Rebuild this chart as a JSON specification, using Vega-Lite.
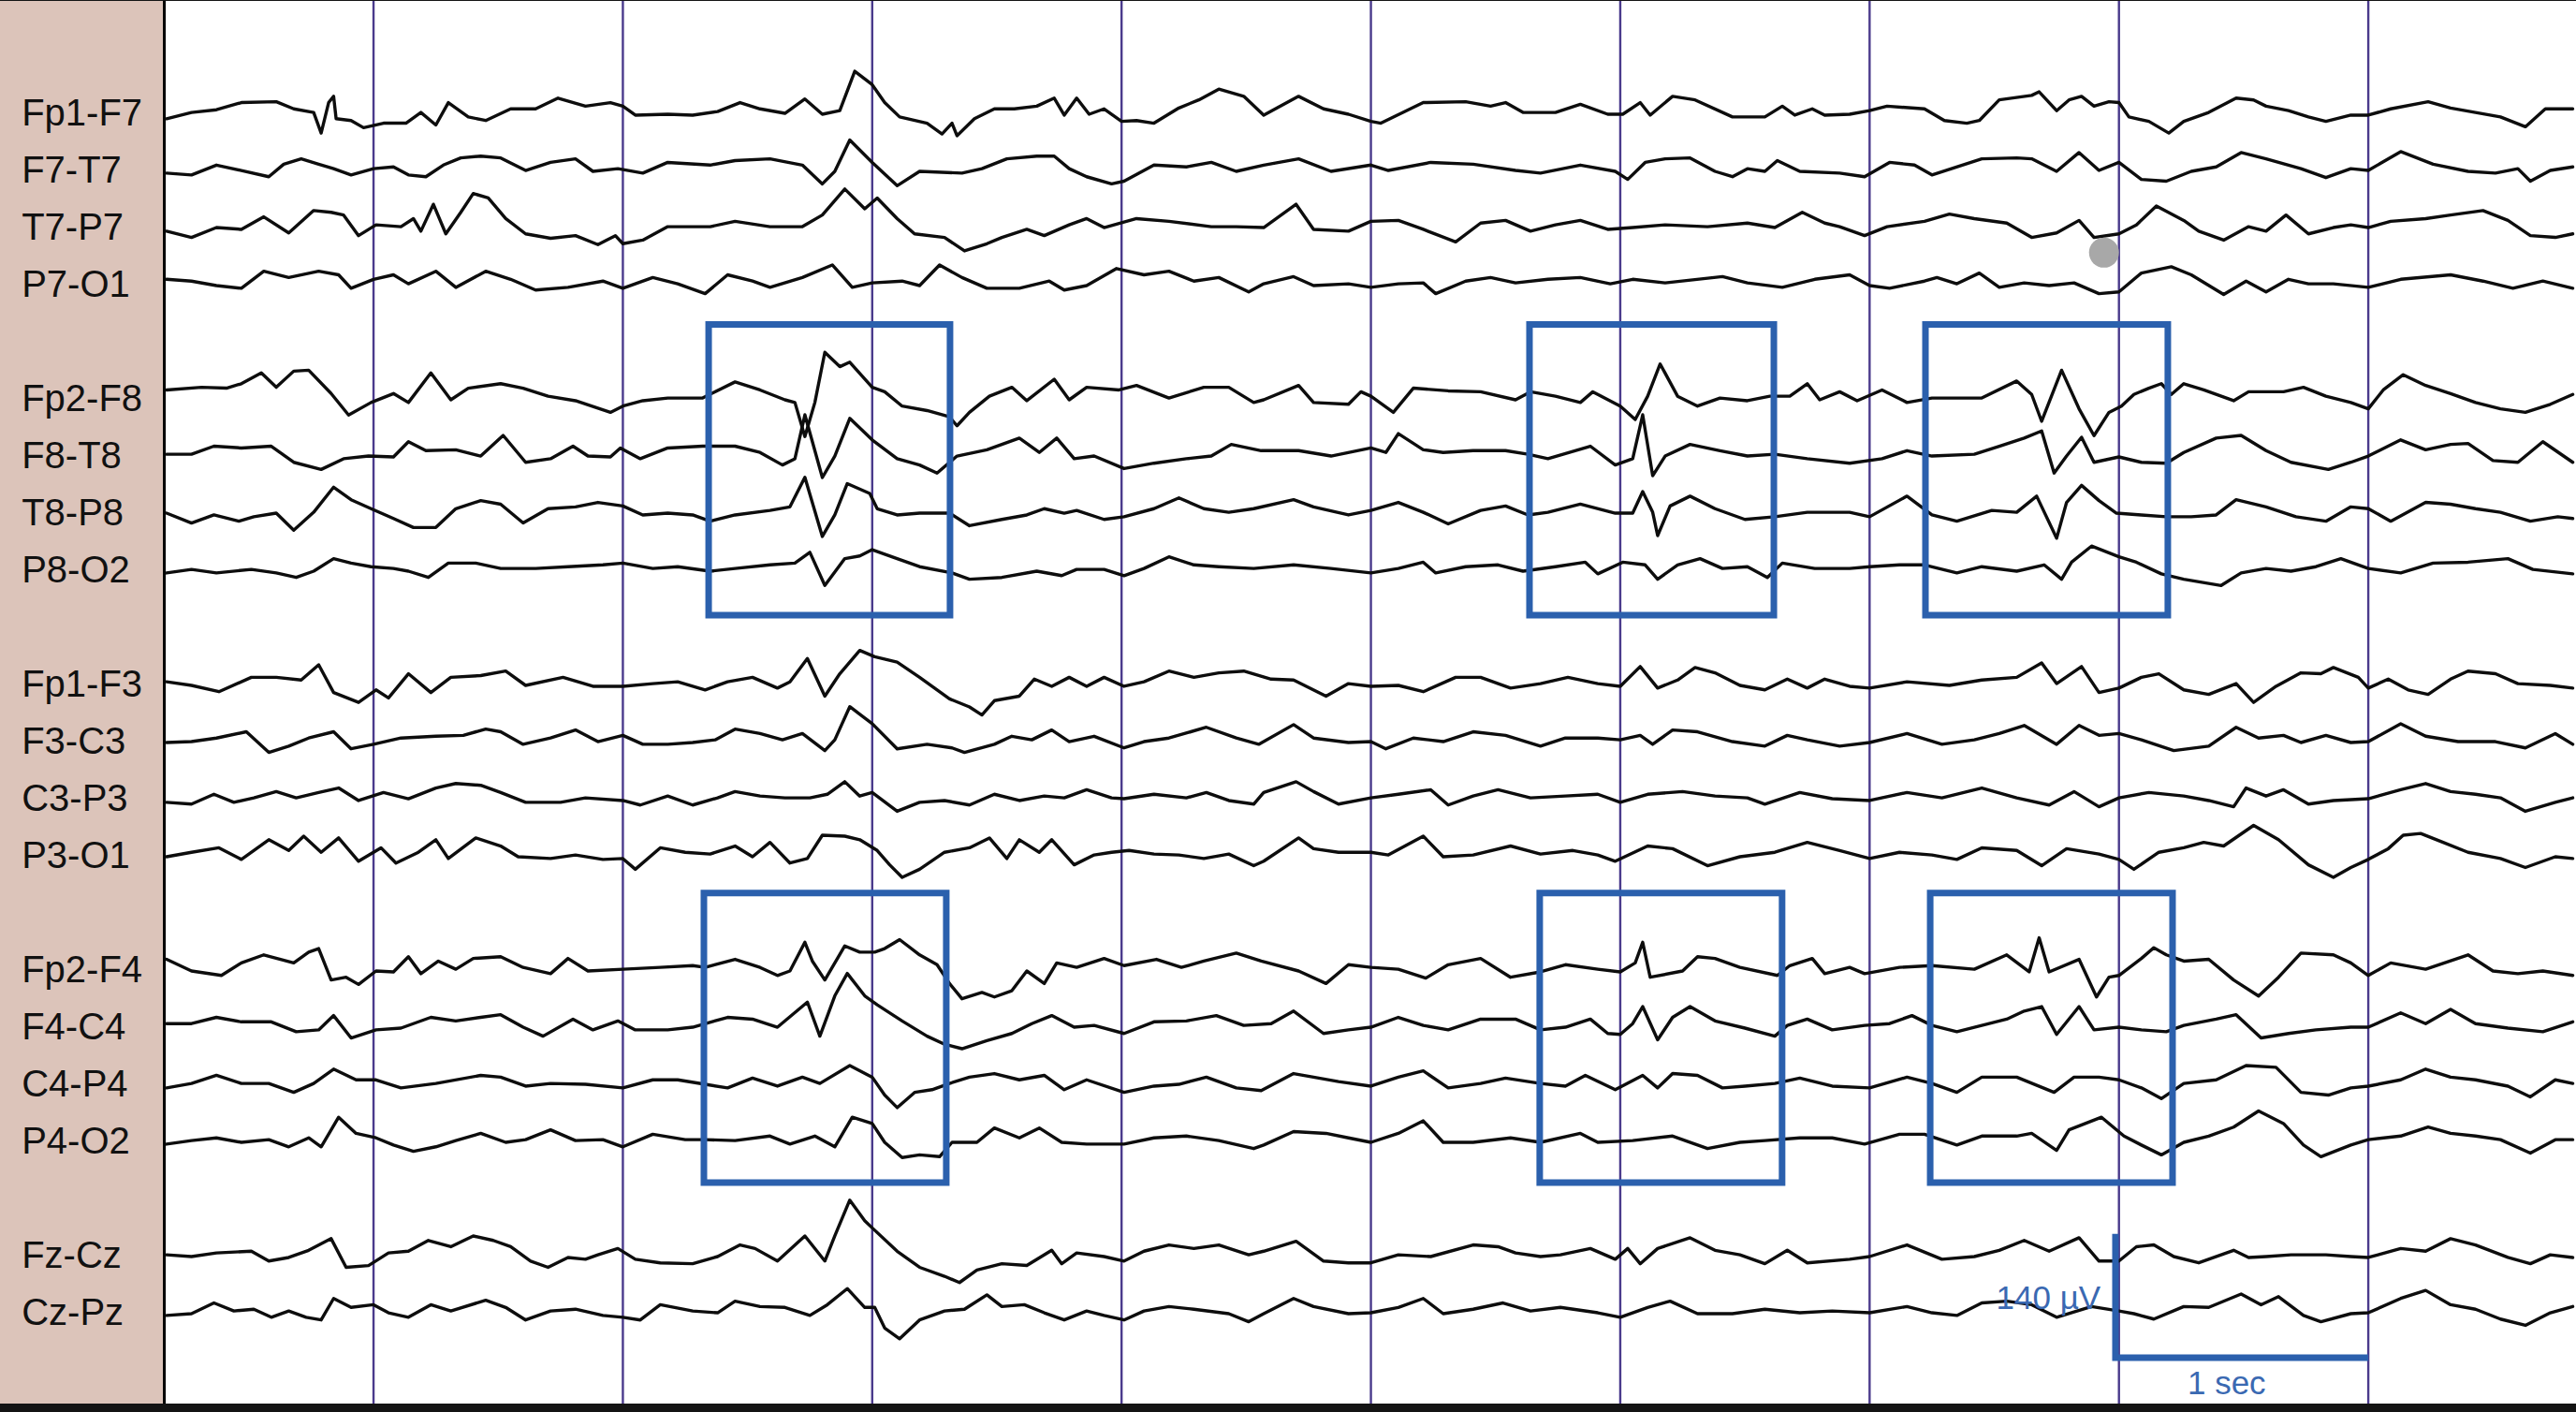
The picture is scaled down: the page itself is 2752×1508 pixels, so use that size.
{
"$schema":"https://vega.github.io/schema/vega-lite/v6.json",
"width":2752,"height":1498,"autosize":"none",
"padding":{"left":0,"right":0,"top":1,"bottom":9},
"background":"#141414",
"config":{"view":{"stroke":null,"fill":"#ffffff"},"axis":{"disable":true},"line":{"color":"#0d0d0d","strokeWidth":3.4,"strokeJoin":"round","strokeCap":"round"}},
"datasets":{
"Fp1-F7":[{"t":0.17,"v":-5},{"t":0.27,"v":2},{"t":0.37,"v":5},{"t":0.47,"v":13},{"t":0.61,"v":14},{"t":0.68,"v":6},{"t":0.76,"v":2},{"t":0.79,"v":-21},{"t":0.82,"v":13},{"t":0.84,"v":20},{"t":0.85,"v":-5},{"t":0.91,"v":-7},{"t":0.96,"v":-15},{"t":1.04,"v":-10},{"t":1.13,"v":-10},{"t":1.19,"v":2},{"t":1.25,"v":-12},{"t":1.3,"v":13},{"t":1.38,"v":-3},{"t":1.45,"v":-7},{"t":1.55,"v":6},{"t":1.65,"v":6},{"t":1.74,"v":18},{"t":1.85,"v":9},{"t":1.95,"v":13},{"t":2.0,"v":9},{"t":2.05,"v":-1},{"t":2.18,"v":0},{"t":2.28,"v":-1},{"t":2.38,"v":3},{"t":2.47,"v":13},{"t":2.55,"v":6},{"t":2.65,"v":1},{"t":2.73,"v":17},{"t":2.8,"v":0},{"t":2.87,"v":4},{"t":2.93,"v":48},{"t":3.0,"v":33},{"t":3.05,"v":13},{"t":3.11,"v":-3},{"t":3.22,"v":-10},{"t":3.28,"v":-22},{"t":3.32,"v":-10},{"t":3.34,"v":-24},{"t":3.41,"v":-5},{"t":3.49,"v":6},{"t":3.57,"v":6},{"t":3.66,"v":9},{"t":3.73,"v":18},{"t":3.77,"v":-1},{"t":3.82,"v":18},{"t":3.87,"v":0},{"t":3.93,"v":6},{"t":4.0,"v":-8},{"t":4.06,"v":-7},{"t":4.13,"v":-10},{"t":4.23,"v":7},{"t":4.31,"v":16},{"t":4.39,"v":28},{"t":4.49,"v":20},{"t":4.57,"v":-1},{"t":4.71,"v":20},{"t":4.81,"v":6},{"t":4.91,"v":0},{"t":5.0,"v":-8},{"t":5.04,"v":-10},{"t":5.21,"v":13},{"t":5.38,"v":14},{"t":5.48,"v":9},{"t":5.54,"v":13},{"t":5.61,"v":2},{"t":5.74,"v":2},{"t":5.84,"v":11},{"t":5.95,"v":0},{"t":6.01,"v":0},{"t":6.08,"v":13},{"t":6.12,"v":-1},{"t":6.21,"v":20},{"t":6.3,"v":16},{"t":6.45,"v":-3},{"t":6.58,"v":-3},{"t":6.65,"v":9},{"t":6.7,"v":-1},{"t":6.77,"v":6},{"t":6.82,"v":-1},{"t":6.92,"v":0},{"t":7.0,"v":4},{"t":7.07,"v":9},{"t":7.22,"v":6},{"t":7.3,"v":-7},{"t":7.39,"v":-10},{"t":7.44,"v":-7},{"t":7.52,"v":16},{"t":7.65,"v":21},{"t":7.68,"v":25},{"t":7.75,"v":4},{"t":7.8,"v":16},{"t":7.85,"v":20},{"t":7.9,"v":9},{"t":7.96,"v":14},{"t":8.0,"v":13},{"t":8.04,"v":-3},{"t":8.12,"v":-8},{"t":8.2,"v":-21},{"t":8.26,"v":-8},{"t":8.36,"v":2},{"t":8.47,"v":18},{"t":8.54,"v":16},{"t":8.59,"v":9},{"t":8.68,"v":4},{"t":8.76,"v":-3},{"t":8.83,"v":-8},{"t":8.93,"v":-1},{"t":9.0,"v":-1},{"t":9.09,"v":6},{"t":9.24,"v":14},{"t":9.33,"v":7},{"t":9.43,"v":2},{"t":9.53,"v":-3},{"t":9.63,"v":-14},{"t":9.71,"v":6},{"t":9.82,"v":6}],
"F7-T7":[{"t":0.17,"v":-2},{"t":0.27,"v":-4},{"t":0.37,"v":7},{"t":0.47,"v":1},{"t":0.58,"v":-6},{"t":0.64,"v":8},{"t":0.71,"v":14},{"t":0.78,"v":8},{"t":0.84,"v":3},{"t":0.91,"v":-4},{"t":1.0,"v":3},{"t":1.08,"v":5},{"t":1.14,"v":-4},{"t":1.21,"v":-6},{"t":1.28,"v":7},{"t":1.35,"v":15},{"t":1.43,"v":17},{"t":1.51,"v":15},{"t":1.61,"v":1},{"t":1.71,"v":10},{"t":1.81,"v":14},{"t":1.88,"v":0},{"t":1.98,"v":3},{"t":2.08,"v":-2},{"t":2.18,"v":10},{"t":2.35,"v":7},{"t":2.45,"v":12},{"t":2.59,"v":14},{"t":2.72,"v":7},{"t":2.8,"v":-14},{"t":2.85,"v":0},{"t":2.91,"v":35},{"t":3.0,"v":10},{"t":3.1,"v":-16},{"t":3.19,"v":0},{"t":3.36,"v":-2},{"t":3.44,"v":3},{"t":3.54,"v":14},{"t":3.66,"v":17},{"t":3.73,"v":17},{"t":3.79,"v":3},{"t":3.86,"v":-6},{"t":3.96,"v":-14},{"t":4.01,"v":-11},{"t":4.13,"v":7},{"t":4.26,"v":5},{"t":4.36,"v":10},{"t":4.46,"v":0},{"t":4.57,"v":7},{"t":4.71,"v":14},{"t":4.84,"v":0},{"t":5.0,"v":7},{"t":5.07,"v":1},{"t":5.24,"v":10},{"t":5.41,"v":8},{"t":5.58,"v":1},{"t":5.68,"v":-2},{"t":5.84,"v":7},{"t":5.98,"v":0},{"t":6.03,"v":-9},{"t":6.1,"v":10},{"t":6.18,"v":14},{"t":6.28,"v":15},{"t":6.38,"v":0},{"t":6.45,"v":-6},{"t":6.51,"v":3},{"t":6.58,"v":0},{"t":6.63,"v":12},{"t":6.72,"v":0},{"t":6.88,"v":-2},{"t":6.98,"v":-6},{"t":7.08,"v":10},{"t":7.18,"v":7},{"t":7.25,"v":-4},{"t":7.45,"v":14},{"t":7.59,"v":15},{"t":7.65,"v":14},{"t":7.75,"v":0},{"t":7.84,"v":21},{"t":7.92,"v":1},{"t":8.0,"v":10},{"t":8.09,"v":-9},{"t":8.19,"v":-11},{"t":8.29,"v":0},{"t":8.39,"v":5},{"t":8.49,"v":21},{"t":8.59,"v":14},{"t":8.73,"v":3},{"t":8.83,"v":-7},{"t":8.93,"v":3},{"t":9.0,"v":1},{"t":9.13,"v":22},{"t":9.26,"v":8},{"t":9.4,"v":0},{"t":9.51,"v":-2},{"t":9.6,"v":3},{"t":9.65,"v":-11},{"t":9.73,"v":1},{"t":9.82,"v":5}],
"T7-P7":[{"t":0.17,"v":-3},{"t":0.27,"v":-10},{"t":0.37,"v":1},{"t":0.47,"v":-1},{"t":0.56,"v":13},{"t":0.66,"v":-5},{"t":0.76,"v":20},{"t":0.83,"v":18},{"t":0.88,"v":15},{"t":0.94,"v":-8},{"t":1.01,"v":4},{"t":1.11,"v":2},{"t":1.16,"v":11},{"t":1.19,"v":-3},{"t":1.24,"v":27},{"t":1.29,"v":-6},{"t":1.35,"v":18},{"t":1.4,"v":39},{"t":1.46,"v":34},{"t":1.53,"v":11},{"t":1.61,"v":-6},{"t":1.71,"v":-11},{"t":1.81,"v":-8},{"t":1.9,"v":-18},{"t":1.97,"v":-8},{"t":2.0,"v":-17},{"t":2.08,"v":-13},{"t":2.18,"v":2},{"t":2.35,"v":2},{"t":2.45,"v":8},{"t":2.59,"v":2},{"t":2.72,"v":2},{"t":2.8,"v":15},{"t":2.89,"v":44},{"t":2.97,"v":22},{"t":3.02,"v":34},{"t":3.1,"v":11},{"t":3.17,"v":-6},{"t":3.29,"v":-10},{"t":3.37,"v":-25},{"t":3.46,"v":-17},{"t":3.52,"v":-10},{"t":3.62,"v":-1},{"t":3.69,"v":-8},{"t":3.79,"v":4},{"t":3.86,"v":11},{"t":3.93,"v":1},{"t":4.06,"v":11},{"t":4.19,"v":8},{"t":4.36,"v":2},{"t":4.46,"v":2},{"t":4.57,"v":1},{"t":4.7,"v":27},{"t":4.77,"v":-1},{"t":4.91,"v":-3},{"t":5.0,"v":8},{"t":5.11,"v":9},{"t":5.21,"v":-1},{"t":5.34,"v":-15},{"t":5.44,"v":6},{"t":5.54,"v":9},{"t":5.64,"v":-3},{"t":5.74,"v":4},{"t":5.84,"v":9},{"t":5.95,"v":-1},{"t":6.05,"v":1},{"t":6.18,"v":4},{"t":6.35,"v":2},{"t":6.51,"v":6},{"t":6.62,"v":1},{"t":6.73,"v":18},{"t":6.82,"v":6},{"t":6.88,"v":2},{"t":6.98,"v":-8},{"t":7.07,"v":2},{"t":7.22,"v":8},{"t":7.32,"v":16},{"t":7.42,"v":11},{"t":7.55,"v":6},{"t":7.65,"v":-10},{"t":7.75,"v":-5},{"t":7.84,"v":9},{"t":7.9,"v":-10},{"t":8.0,"v":-6},{"t":8.07,"v":4},{"t":8.15,"v":25},{"t":8.26,"v":9},{"t":8.32,"v":-3},{"t":8.42,"v":-13},{"t":8.52,"v":2},{"t":8.59,"v":-3},{"t":8.67,"v":15},{"t":8.76,"v":-6},{"t":8.86,"v":1},{"t":8.93,"v":4},{"t":9.0,"v":1},{"t":9.09,"v":8},{"t":9.23,"v":11},{"t":9.33,"v":15},{"t":9.46,"v":20},{"t":9.56,"v":9},{"t":9.65,"v":-8},{"t":9.75,"v":-10},{"t":9.82,"v":-6}],
"P7-O1":[{"t":0.17,"v":7},{"t":0.27,"v":5},{"t":0.37,"v":0},{"t":0.47,"v":-3},{"t":0.56,"v":16},{"t":0.66,"v":9},{"t":0.78,"v":16},{"t":0.86,"v":12},{"t":0.91,"v":-3},{"t":1.0,"v":7},{"t":1.08,"v":12},{"t":1.14,"v":2},{"t":1.25,"v":16},{"t":1.33,"v":-2},{"t":1.45,"v":16},{"t":1.55,"v":7},{"t":1.65,"v":-5},{"t":1.78,"v":-2},{"t":1.92,"v":5},{"t":2.0,"v":-3},{"t":2.12,"v":9},{"t":2.22,"v":2},{"t":2.33,"v":-9},{"t":2.42,"v":12},{"t":2.52,"v":5},{"t":2.59,"v":-2},{"t":2.72,"v":9},{"t":2.84,"v":23},{"t":2.92,"v":-2},{"t":3.0,"v":3},{"t":3.12,"v":5},{"t":3.19,"v":0},{"t":3.27,"v":23},{"t":3.36,"v":9},{"t":3.46,"v":-3},{"t":3.59,"v":-3},{"t":3.71,"v":5},{"t":3.77,"v":-5},{"t":3.86,"v":0},{"t":3.98,"v":19},{"t":4.09,"v":12},{"t":4.19,"v":16},{"t":4.29,"v":5},{"t":4.39,"v":9},{"t":4.51,"v":-7},{"t":4.57,"v":2},{"t":4.69,"v":10},{"t":4.77,"v":0},{"t":4.91,"v":2},{"t":5.0,"v":-2},{"t":5.11,"v":2},{"t":5.21,"v":3},{"t":5.26,"v":-9},{"t":5.38,"v":5},{"t":5.48,"v":9},{"t":5.58,"v":3},{"t":5.71,"v":7},{"t":5.84,"v":9},{"t":5.96,"v":2},{"t":6.05,"v":7},{"t":6.18,"v":3},{"t":6.41,"v":10},{"t":6.51,"v":3},{"t":6.65,"v":-2},{"t":6.78,"v":7},{"t":6.92,"v":12},{"t":7.0,"v":0},{"t":7.08,"v":-3},{"t":7.22,"v":5},{"t":7.27,"v":9},{"t":7.35,"v":2},{"t":7.44,"v":14},{"t":7.52,"v":-2},{"t":7.62,"v":3},{"t":7.72,"v":0},{"t":7.82,"v":3},{"t":7.92,"v":-9},{"t":8.0,"v":-7},{"t":8.09,"v":14},{"t":8.21,"v":21},{"t":8.29,"v":12},{"t":8.42,"v":-10},{"t":8.51,"v":5},{"t":8.59,"v":-7},{"t":8.68,"v":7},{"t":8.76,"v":2},{"t":8.86,"v":2},{"t":9.0,"v":-2},{"t":9.13,"v":7},{"t":9.33,"v":12},{"t":9.46,"v":5},{"t":9.58,"v":-3},{"t":9.7,"v":5},{"t":9.82,"v":-3}],
"Fp2-F8":[{"t":0.17,"v":11},{"t":0.31,"v":14},{"t":0.41,"v":13},{"t":0.47,"v":18},{"t":0.55,"v":30},{"t":0.61,"v":14},{"t":0.68,"v":32},{"t":0.74,"v":33},{"t":0.83,"v":7},{"t":0.9,"v":-17},{"t":0.99,"v":-3},{"t":1.08,"v":7},{"t":1.14,"v":-3},{"t":1.23,"v":30},{"t":1.31,"v":0},{"t":1.38,"v":13},{"t":1.51,"v":18},{"t":1.6,"v":13},{"t":1.7,"v":4},{"t":1.81,"v":-1},{"t":1.95,"v":-14},{"t":2.0,"v":-7},{"t":2.08,"v":-1},{"t":2.18,"v":2},{"t":2.32,"v":2},{"t":2.45,"v":20},{"t":2.55,"v":11},{"t":2.65,"v":0},{"t":2.69,"v":-3},{"t":2.73,"v":-41},{"t":2.77,"v":-3},{"t":2.81,"v":53},{"t":2.87,"v":37},{"t":2.91,"v":42},{"t":3.0,"v":14},{"t":3.05,"v":9},{"t":3.12,"v":-7},{"t":3.22,"v":-12},{"t":3.31,"v":-19},{"t":3.34,"v":-29},{"t":3.39,"v":-14},{"t":3.47,"v":4},{"t":3.56,"v":14},{"t":3.62,"v":-1},{"t":3.73,"v":23},{"t":3.79,"v":0},{"t":3.86,"v":14},{"t":3.99,"v":11},{"t":4.06,"v":16},{"t":4.19,"v":2},{"t":4.33,"v":14},{"t":4.43,"v":14},{"t":4.53,"v":-3},{"t":4.57,"v":0},{"t":4.71,"v":16},{"t":4.77,"v":-3},{"t":4.91,"v":-5},{"t":4.96,"v":9},{"t":5.0,"v":4},{"t":5.09,"v":-14},{"t":5.17,"v":13},{"t":5.31,"v":10},{"t":5.44,"v":9},{"t":5.58,"v":0},{"t":5.64,"v":9},{"t":5.74,"v":4},{"t":5.84,"v":-3},{"t":5.89,"v":9},{"t":6.0,"v":-7},{"t":6.06,"v":-22},{"t":6.11,"v":4},{"t":6.16,"v":40},{"t":6.23,"v":4},{"t":6.31,"v":-7},{"t":6.4,"v":2},{"t":6.51,"v":-1},{"t":6.6,"v":4},{"t":6.68,"v":4},{"t":6.75,"v":18},{"t":6.8,"v":0},{"t":6.88,"v":9},{"t":6.95,"v":-1},{"t":7.05,"v":11},{"t":7.15,"v":-3},{"t":7.25,"v":2},{"t":7.45,"v":2},{"t":7.59,"v":21},{"t":7.65,"v":6},{"t":7.69,"v":-24},{"t":7.77,"v":33},{"t":7.84,"v":-10},{"t":7.9,"v":-40},{"t":7.96,"v":-14},{"t":8.01,"v":-7},{"t":8.06,"v":6},{"t":8.12,"v":13},{"t":8.17,"v":18},{"t":8.21,"v":6},{"t":8.26,"v":18},{"t":8.34,"v":11},{"t":8.46,"v":-1},{"t":8.52,"v":9},{"t":8.66,"v":9},{"t":8.74,"v":14},{"t":8.83,"v":4},{"t":8.93,"v":-3},{"t":9.0,"v":-10},{"t":9.06,"v":11},{"t":9.14,"v":28},{"t":9.23,"v":16},{"t":9.33,"v":7},{"t":9.43,"v":-3},{"t":9.53,"v":-10},{"t":9.63,"v":-14},{"t":9.73,"v":-5},{"t":9.82,"v":6}],
"F8-T8":[{"t":0.17,"v":3},{"t":0.27,"v":3},{"t":0.36,"v":12},{"t":0.47,"v":10},{"t":0.59,"v":12},{"t":0.68,"v":-6},{"t":0.79,"v":-14},{"t":0.88,"v":-2},{"t":0.98,"v":1},{"t":1.08,"v":0},{"t":1.14,"v":17},{"t":1.21,"v":7},{"t":1.33,"v":8},{"t":1.43,"v":1},{"t":1.52,"v":24},{"t":1.61,"v":-6},{"t":1.71,"v":-2},{"t":1.8,"v":12},{"t":1.86,"v":1},{"t":1.95,"v":0},{"t":1.99,"v":10},{"t":2.07,"v":-2},{"t":2.18,"v":10},{"t":2.32,"v":12},{"t":2.45,"v":12},{"t":2.55,"v":5},{"t":2.64,"v":-9},{"t":2.69,"v":-2},{"t":2.73,"v":47},{"t":2.8,"v":-23},{"t":2.85,"v":1},{"t":2.91,"v":43},{"t":3.0,"v":19},{"t":3.1,"v":-2},{"t":3.19,"v":-9},{"t":3.26,"v":-18},{"t":3.34,"v":1},{"t":3.46,"v":8},{"t":3.59,"v":21},{"t":3.67,"v":5},{"t":3.74,"v":21},{"t":3.81,"v":-2},{"t":3.89,"v":1},{"t":4.01,"v":-13},{"t":4.13,"v":-7},{"t":4.26,"v":-2},{"t":4.36,"v":1},{"t":4.44,"v":14},{"t":4.56,"v":7},{"t":4.71,"v":7},{"t":4.84,"v":1},{"t":5.0,"v":10},{"t":5.06,"v":5},{"t":5.11,"v":26},{"t":5.21,"v":8},{"t":5.29,"v":5},{"t":5.41,"v":7},{"t":5.54,"v":7},{"t":5.63,"v":3},{"t":5.71,"v":-2},{"t":5.88,"v":12},{"t":5.98,"v":-9},{"t":6.05,"v":-2},{"t":6.09,"v":47},{"t":6.13,"v":-21},{"t":6.18,"v":1},{"t":6.28,"v":14},{"t":6.4,"v":7},{"t":6.51,"v":1},{"t":6.62,"v":3},{"t":6.75,"v":-2},{"t":6.92,"v":-7},{"t":7.05,"v":-2},{"t":7.15,"v":7},{"t":7.25,"v":1},{"t":7.42,"v":3},{"t":7.52,"v":12},{"t":7.62,"v":21},{"t":7.69,"v":29},{"t":7.74,"v":-18},{"t":7.79,"v":1},{"t":7.85,"v":22},{"t":7.9,"v":-6},{"t":8.0,"v":0},{"t":8.09,"v":-6},{"t":8.19,"v":-7},{"t":8.26,"v":5},{"t":8.39,"v":21},{"t":8.49,"v":24},{"t":8.59,"v":7},{"t":8.69,"v":-6},{"t":8.84,"v":-14},{"t":8.93,"v":-6},{"t":9.0,"v":1},{"t":9.13,"v":19},{"t":9.23,"v":8},{"t":9.33,"v":14},{"t":9.4,"v":15},{"t":9.5,"v":-4},{"t":9.6,"v":-6},{"t":9.7,"v":17},{"t":9.82,"v":-6}],
"T8-P8":[{"t":0.17,"v":1},{"t":0.27,"v":-10},{"t":0.36,"v":-1},{"t":0.46,"v":-8},{"t":0.52,"v":-3},{"t":0.61,"v":1},{"t":0.68,"v":-18},{"t":0.76,"v":2},{"t":0.84,"v":30},{"t":0.91,"v":16},{"t":0.99,"v":6},{"t":1.08,"v":-5},{"t":1.16,"v":-15},{"t":1.25,"v":-15},{"t":1.33,"v":6},{"t":1.43,"v":15},{"t":1.51,"v":11},{"t":1.6,"v":-10},{"t":1.7,"v":6},{"t":1.81,"v":8},{"t":1.9,"v":13},{"t":2.0,"v":9},{"t":2.08,"v":-1},{"t":2.18,"v":1},{"t":2.28,"v":-1},{"t":2.35,"v":-8},{"t":2.45,"v":-1},{"t":2.59,"v":4},{"t":2.67,"v":8},{"t":2.73,"v":41},{"t":2.8,"v":-25},{"t":2.85,"v":-1},{"t":2.9,"v":34},{"t":2.99,"v":23},{"t":3.02,"v":6},{"t":3.1,"v":-1},{"t":3.19,"v":1},{"t":3.31,"v":1},{"t":3.39,"v":-13},{"t":3.52,"v":-6},{"t":3.62,"v":-1},{"t":3.69,"v":6},{"t":3.77,"v":1},{"t":3.82,"v":4},{"t":3.93,"v":-6},{"t":4.01,"v":-3},{"t":4.13,"v":6},{"t":4.23,"v":18},{"t":4.33,"v":6},{"t":4.43,"v":2},{"t":4.53,"v":6},{"t":4.69,"v":16},{"t":4.77,"v":8},{"t":4.91,"v":-1},{"t":5.0,"v":4},{"t":5.11,"v":13},{"t":5.21,"v":2},{"t":5.31,"v":-11},{"t":5.44,"v":4},{"t":5.54,"v":9},{"t":5.63,"v":-1},{"t":5.71,"v":2},{"t":5.84,"v":11},{"t":5.98,"v":1},{"t":6.05,"v":1},{"t":6.09,"v":25},{"t":6.13,"v":2},{"t":6.15,"v":-24},{"t":6.2,"v":9},{"t":6.28,"v":20},{"t":6.38,"v":6},{"t":6.5,"v":-6},{"t":6.62,"v":-3},{"t":6.75,"v":2},{"t":6.92,"v":2},{"t":7.0,"v":-3},{"t":7.15,"v":20},{"t":7.25,"v":-1},{"t":7.35,"v":-8},{"t":7.49,"v":4},{"t":7.59,"v":2},{"t":7.67,"v":20},{"t":7.75,"v":-27},{"t":7.79,"v":13},{"t":7.85,"v":32},{"t":7.92,"v":15},{"t":7.99,"v":1},{"t":8.09,"v":-1},{"t":8.19,"v":-3},{"t":8.29,"v":-3},{"t":8.39,"v":-1},{"t":8.47,"v":16},{"t":8.59,"v":8},{"t":8.71,"v":-3},{"t":8.83,"v":-8},{"t":8.93,"v":8},{"t":9.0,"v":6},{"t":9.09,"v":-8},{"t":9.23,"v":13},{"t":9.33,"v":11},{"t":9.43,"v":6},{"t":9.53,"v":2},{"t":9.65,"v":-8},{"t":9.76,"v":-3},{"t":9.82,"v":-5}],
"P8-O2":[{"t":0.17,"v":-2},{"t":0.27,"v":2},{"t":0.37,"v":-2},{"t":0.51,"v":2},{"t":0.61,"v":-2},{"t":0.69,"v":-7},{"t":0.76,"v":0},{"t":0.84,"v":14},{"t":0.91,"v":9},{"t":0.99,"v":5},{"t":1.08,"v":3},{"t":1.14,"v":0},{"t":1.22,"v":-7},{"t":1.3,"v":9},{"t":1.41,"v":9},{"t":1.51,"v":3},{"t":1.65,"v":3},{"t":1.78,"v":5},{"t":1.92,"v":7},{"t":2.0,"v":9},{"t":2.12,"v":3},{"t":2.22,"v":5},{"t":2.35,"v":0},{"t":2.45,"v":3},{"t":2.59,"v":7},{"t":2.69,"v":9},{"t":2.75,"v":21},{"t":2.81,"v":-16},{"t":2.89,"v":14},{"t":2.95,"v":17},{"t":3.0,"v":24},{"t":3.1,"v":14},{"t":3.19,"v":5},{"t":3.32,"v":-2},{"t":3.39,"v":-9},{"t":3.52,"v":-7},{"t":3.66,"v":0},{"t":3.76,"v":-5},{"t":3.82,"v":2},{"t":3.93,"v":2},{"t":4.01,"v":-5},{"t":4.09,"v":3},{"t":4.19,"v":16},{"t":4.29,"v":7},{"t":4.39,"v":5},{"t":4.53,"v":3},{"t":4.69,"v":7},{"t":4.84,"v":3},{"t":5.0,"v":-2},{"t":5.11,"v":3},{"t":5.21,"v":10},{"t":5.26,"v":-2},{"t":5.38,"v":5},{"t":5.51,"v":7},{"t":5.61,"v":0},{"t":5.74,"v":5},{"t":5.86,"v":10},{"t":5.91,"v":-3},{"t":6.01,"v":10},{"t":6.1,"v":7},{"t":6.15,"v":-9},{"t":6.23,"v":7},{"t":6.32,"v":14},{"t":6.41,"v":3},{"t":6.51,"v":5},{"t":6.59,"v":-7},{"t":6.65,"v":9},{"t":6.78,"v":3},{"t":6.92,"v":3},{"t":7.0,"v":5},{"t":7.12,"v":7},{"t":7.22,"v":7},{"t":7.35,"v":-2},{"t":7.45,"v":5},{"t":7.59,"v":0},{"t":7.7,"v":7},{"t":7.77,"v":-9},{"t":7.81,"v":10},{"t":7.89,"v":28},{"t":8.0,"v":16},{"t":8.07,"v":10},{"t":8.17,"v":-3},{"t":8.26,"v":-9},{"t":8.41,"v":-16},{"t":8.49,"v":-2},{"t":8.59,"v":3},{"t":8.69,"v":0},{"t":8.79,"v":5},{"t":8.89,"v":14},{"t":9.0,"v":3},{"t":9.13,"v":-2},{"t":9.26,"v":9},{"t":9.4,"v":10},{"t":9.56,"v":14},{"t":9.66,"v":2},{"t":9.82,"v":-3}],
"Fp1-F3":[{"t":0.17,"v":4},{"t":0.27,"v":0},{"t":0.38,"v":-7},{"t":0.51,"v":9},{"t":0.61,"v":9},{"t":0.71,"v":6},{"t":0.78,"v":23},{"t":0.84,"v":-8},{"t":0.94,"v":-19},{"t":1.01,"v":-5},{"t":1.06,"v":-14},{"t":1.14,"v":13},{"t":1.23,"v":-8},{"t":1.31,"v":9},{"t":1.43,"v":11},{"t":1.53,"v":16},{"t":1.61,"v":0},{"t":1.76,"v":9},{"t":1.88,"v":-1},{"t":2.0,"v":-1},{"t":2.12,"v":2},{"t":2.22,"v":4},{"t":2.33,"v":-5},{"t":2.42,"v":4},{"t":2.52,"v":9},{"t":2.62,"v":-3},{"t":2.67,"v":4},{"t":2.74,"v":30},{"t":2.81,"v":-12},{"t":2.87,"v":13},{"t":2.95,"v":39},{"t":3.01,"v":32},{"t":3.1,"v":26},{"t":3.19,"v":9},{"t":3.31,"v":-15},{"t":3.39,"v":-24},{"t":3.44,"v":-33},{"t":3.49,"v":-17},{"t":3.59,"v":-12},{"t":3.65,"v":7},{"t":3.72,"v":-1},{"t":3.79,"v":9},{"t":3.86,"v":-1},{"t":3.93,"v":9},{"t":4.01,"v":-1},{"t":4.09,"v":4},{"t":4.19,"v":16},{"t":4.29,"v":9},{"t":4.39,"v":14},{"t":4.49,"v":16},{"t":4.6,"v":7},{"t":4.69,"v":6},{"t":4.82,"v":-12},{"t":4.91,"v":2},{"t":5.0,"v":-1},{"t":5.11,"v":0},{"t":5.21,"v":-7},{"t":5.34,"v":9},{"t":5.44,"v":9},{"t":5.56,"v":-3},{"t":5.68,"v":2},{"t":5.79,"v":9},{"t":5.91,"v":2},{"t":6.0,"v":-1},{"t":6.08,"v":21},{"t":6.15,"v":-3},{"t":6.23,"v":6},{"t":6.3,"v":20},{"t":6.38,"v":14},{"t":6.48,"v":0},{"t":6.58,"v":-5},{"t":6.67,"v":7},{"t":6.75,"v":-3},{"t":6.82,"v":7},{"t":6.92,"v":-1},{"t":7.0,"v":-3},{"t":7.15,"v":4},{"t":7.32,"v":0},{"t":7.45,"v":6},{"t":7.59,"v":9},{"t":7.69,"v":25},{"t":7.75,"v":2},{"t":7.85,"v":21},{"t":7.92,"v":-8},{"t":8.0,"v":-3},{"t":8.09,"v":9},{"t":8.16,"v":13},{"t":8.26,"v":-5},{"t":8.36,"v":-10},{"t":8.47,"v":2},{"t":8.54,"v":-19},{"t":8.63,"v":-1},{"t":8.73,"v":14},{"t":8.81,"v":13},{"t":8.86,"v":20},{"t":8.96,"v":9},{"t":9.0,"v":-3},{"t":9.08,"v":7},{"t":9.16,"v":-5},{"t":9.24,"v":-10},{"t":9.33,"v":7},{"t":9.4,"v":16},{"t":9.51,"v":13},{"t":9.6,"v":2},{"t":9.73,"v":0},{"t":9.82,"v":-3}],
"F3-C3":[{"t":0.17,"v":0},{"t":0.27,"v":1},{"t":0.37,"v":5},{"t":0.49,"v":12},{"t":0.58,"v":-11},{"t":0.66,"v":-4},{"t":0.74,"v":5},{"t":0.84,"v":12},{"t":0.91,"v":-7},{"t":1.0,"v":-2},{"t":1.11,"v":5},{"t":1.25,"v":7},{"t":1.36,"v":8},{"t":1.45,"v":15},{"t":1.51,"v":12},{"t":1.6,"v":-2},{"t":1.71,"v":5},{"t":1.81,"v":14},{"t":1.9,"v":1},{"t":2.0,"v":8},{"t":2.08,"v":-2},{"t":2.18,"v":-2},{"t":2.28,"v":0},{"t":2.37,"v":3},{"t":2.45,"v":15},{"t":2.55,"v":10},{"t":2.64,"v":3},{"t":2.72,"v":10},{"t":2.81,"v":-9},{"t":2.85,"v":3},{"t":2.91,"v":40},{"t":3.0,"v":21},{"t":3.1,"v":-7},{"t":3.22,"v":-2},{"t":3.32,"v":-6},{"t":3.37,"v":-11},{"t":3.49,"v":-2},{"t":3.56,"v":7},{"t":3.64,"v":3},{"t":3.72,"v":14},{"t":3.79,"v":1},{"t":3.89,"v":7},{"t":4.01,"v":-6},{"t":4.09,"v":1},{"t":4.19,"v":5},{"t":4.34,"v":17},{"t":4.46,"v":5},{"t":4.55,"v":-2},{"t":4.69,"v":20},{"t":4.77,"v":5},{"t":4.91,"v":0},{"t":5.0,"v":1},{"t":5.06,"v":-7},{"t":5.17,"v":5},{"t":5.29,"v":1},{"t":5.41,"v":12},{"t":5.54,"v":8},{"t":5.68,"v":-4},{"t":5.78,"v":5},{"t":5.91,"v":5},{"t":6.0,"v":3},{"t":6.08,"v":8},{"t":6.13,"v":-2},{"t":6.21,"v":14},{"t":6.31,"v":12},{"t":6.45,"v":1},{"t":6.58,"v":-4},{"t":6.67,"v":8},{"t":6.75,"v":3},{"t":6.88,"v":-4},{"t":7.0,"v":0},{"t":7.15,"v":10},{"t":7.29,"v":-2},{"t":7.42,"v":3},{"t":7.52,"v":10},{"t":7.62,"v":19},{"t":7.75,"v":-2},{"t":7.84,"v":19},{"t":7.92,"v":8},{"t":8.0,"v":10},{"t":8.09,"v":3},{"t":8.22,"v":-9},{"t":8.36,"v":-4},{"t":8.47,"v":17},{"t":8.56,"v":5},{"t":8.66,"v":8},{"t":8.73,"v":0},{"t":8.83,"v":8},{"t":8.93,"v":0},{"t":9.0,"v":1},{"t":9.13,"v":21},{"t":9.23,"v":7},{"t":9.36,"v":1},{"t":9.51,"v":1},{"t":9.63,"v":-6},{"t":9.75,"v":10},{"t":9.82,"v":-2}],
"C3-P3":[{"t":0.17,"v":-3},{"t":0.27,"v":-5},{"t":0.36,"v":6},{"t":0.44,"v":-3},{"t":0.52,"v":2},{"t":0.61,"v":9},{"t":0.69,"v":2},{"t":0.78,"v":8},{"t":0.86,"v":13},{"t":0.94,"v":-1},{"t":1.04,"v":8},{"t":1.14,"v":1},{"t":1.25,"v":13},{"t":1.33,"v":18},{"t":1.43,"v":16},{"t":1.51,"v":8},{"t":1.61,"v":-3},{"t":1.75,"v":-3},{"t":1.85,"v":2},{"t":2.0,"v":-1},{"t":2.07,"v":-6},{"t":2.18,"v":4},{"t":2.28,"v":-6},{"t":2.38,"v":2},{"t":2.45,"v":9},{"t":2.55,"v":4},{"t":2.65,"v":2},{"t":2.75,"v":2},{"t":2.82,"v":6},{"t":2.89,"v":20},{"t":2.95,"v":4},{"t":3.0,"v":8},{"t":3.1,"v":-13},{"t":3.19,"v":-3},{"t":3.29,"v":-1},{"t":3.39,"v":-6},{"t":3.49,"v":6},{"t":3.59,"v":-1},{"t":3.69,"v":4},{"t":3.77,"v":2},{"t":3.86,"v":11},{"t":3.96,"v":2},{"t":4.01,"v":1},{"t":4.13,"v":6},{"t":4.26,"v":2},{"t":4.34,"v":8},{"t":4.43,"v":-1},{"t":4.53,"v":-5},{"t":4.57,"v":8},{"t":4.7,"v":20},{"t":4.77,"v":9},{"t":4.87,"v":-5},{"t":5.0,"v":2},{"t":5.11,"v":6},{"t":5.24,"v":11},{"t":5.31,"v":-6},{"t":5.41,"v":4},{"t":5.51,"v":11},{"t":5.64,"v":2},{"t":5.78,"v":4},{"t":5.91,"v":6},{"t":6.0,"v":-3},{"t":6.11,"v":6},{"t":6.25,"v":9},{"t":6.38,"v":4},{"t":6.51,"v":2},{"t":6.58,"v":-5},{"t":6.72,"v":8},{"t":6.85,"v":1},{"t":7.0,"v":-1},{"t":7.15,"v":8},{"t":7.29,"v":2},{"t":7.45,"v":13},{"t":7.59,"v":2},{"t":7.72,"v":-6},{"t":7.82,"v":9},{"t":7.92,"v":-8},{"t":8.0,"v":2},{"t":8.12,"v":8},{"t":8.26,"v":4},{"t":8.36,"v":-1},{"t":8.46,"v":-8},{"t":8.51,"v":13},{"t":8.59,"v":4},{"t":8.66,"v":11},{"t":8.76,"v":-5},{"t":8.86,"v":-1},{"t":9.0,"v":1},{"t":9.13,"v":11},{"t":9.23,"v":18},{"t":9.33,"v":9},{"t":9.43,"v":6},{"t":9.53,"v":2},{"t":9.63,"v":-13},{"t":9.75,"v":-3},{"t":9.82,"v":2}],
"P3-O1":[{"t":0.17,"v":0},{"t":0.27,"v":5},{"t":0.38,"v":10},{"t":0.47,"v":-3},{"t":0.58,"v":19},{"t":0.66,"v":7},{"t":0.72,"v":23},{"t":0.79,"v":5},{"t":0.86,"v":21},{"t":0.94,"v":-5},{"t":1.03,"v":10},{"t":1.09,"v":-7},{"t":1.18,"v":5},{"t":1.25,"v":19},{"t":1.3,"v":-2},{"t":1.41,"v":21},{"t":1.51,"v":12},{"t":1.58,"v":0},{"t":1.71,"v":-2},{"t":1.81,"v":2},{"t":1.92,"v":-3},{"t":2.0,"v":-2},{"t":2.05,"v":-14},{"t":2.15,"v":10},{"t":2.25,"v":5},{"t":2.35,"v":3},{"t":2.45,"v":12},{"t":2.52,"v":0},{"t":2.59,"v":16},{"t":2.67,"v":-7},{"t":2.74,"v":-2},{"t":2.8,"v":24},{"t":2.89,"v":23},{"t":2.95,"v":19},{"t":3.02,"v":7},{"t":3.07,"v":-9},{"t":3.12,"v":-23},{"t":3.19,"v":-14},{"t":3.29,"v":5},{"t":3.39,"v":10},{"t":3.47,"v":21},{"t":3.54,"v":-2},{"t":3.59,"v":19},{"t":3.67,"v":5},{"t":3.72,"v":19},{"t":3.81,"v":-9},{"t":3.89,"v":2},{"t":3.96,"v":5},{"t":4.03,"v":7},{"t":4.13,"v":3},{"t":4.23,"v":2},{"t":4.33,"v":-2},{"t":4.43,"v":3},{"t":4.53,"v":-10},{"t":4.57,"v":-5},{"t":4.71,"v":21},{"t":4.77,"v":9},{"t":4.87,"v":5},{"t":5.0,"v":5},{"t":5.07,"v":2},{"t":5.21,"v":23},{"t":5.29,"v":0},{"t":5.41,"v":2},{"t":5.56,"v":12},{"t":5.68,"v":3},{"t":5.81,"v":7},{"t":5.91,"v":2},{"t":5.98,"v":-5},{"t":6.11,"v":12},{"t":6.21,"v":9},{"t":6.35,"v":-10},{"t":6.48,"v":0},{"t":6.62,"v":5},{"t":6.75,"v":16},{"t":6.88,"v":7},{"t":7.0,"v":-2},{"t":7.12,"v":5},{"t":7.25,"v":2},{"t":7.35,"v":-3},{"t":7.45,"v":10},{"t":7.59,"v":7},{"t":7.69,"v":-10},{"t":7.79,"v":9},{"t":7.92,"v":3},{"t":8.0,"v":-3},{"t":8.06,"v":-14},{"t":8.16,"v":5},{"t":8.26,"v":10},{"t":8.34,"v":16},{"t":8.42,"v":12},{"t":8.54,"v":35},{"t":8.64,"v":19},{"t":8.76,"v":-9},{"t":8.86,"v":-23},{"t":8.93,"v":-12},{"t":9.0,"v":-3},{"t":9.08,"v":9},{"t":9.14,"v":24},{"t":9.21,"v":26},{"t":9.3,"v":16},{"t":9.4,"v":5},{"t":9.53,"v":-2},{"t":9.63,"v":-12},{"t":9.75,"v":0},{"t":9.82,"v":-2}],
"Fp2-F4":[{"t":0.17,"v":13},{"t":0.27,"v":0},{"t":0.39,"v":-5},{"t":0.47,"v":9},{"t":0.56,"v":18},{"t":0.68,"v":9},{"t":0.74,"v":21},{"t":0.78,"v":25},{"t":0.83,"v":-10},{"t":0.89,"v":-7},{"t":0.94,"v":-15},{"t":1.01,"v":0},{"t":1.08,"v":-1},{"t":1.14,"v":16},{"t":1.19,"v":-3},{"t":1.26,"v":11},{"t":1.33,"v":2},{"t":1.4,"v":14},{"t":1.51,"v":16},{"t":1.6,"v":4},{"t":1.71,"v":-3},{"t":1.78,"v":14},{"t":1.86,"v":0},{"t":2.0,"v":2},{"t":2.15,"v":4},{"t":2.28,"v":6},{"t":2.33,"v":4},{"t":2.45,"v":13},{"t":2.55,"v":4},{"t":2.62,"v":-5},{"t":2.67,"v":0},{"t":2.73,"v":32},{"t":2.76,"v":11},{"t":2.81,"v":-10},{"t":2.89,"v":28},{"t":2.95,"v":21},{"t":3.01,"v":21},{"t":3.05,"v":25},{"t":3.11,"v":35},{"t":3.19,"v":18},{"t":3.26,"v":7},{"t":3.31,"v":-14},{"t":3.36,"v":-31},{"t":3.44,"v":-24},{"t":3.49,"v":-29},{"t":3.56,"v":-22},{"t":3.62,"v":0},{"t":3.69,"v":-14},{"t":3.74,"v":9},{"t":3.82,"v":4},{"t":3.93,"v":14},{"t":4.01,"v":6},{"t":4.14,"v":13},{"t":4.24,"v":4},{"t":4.33,"v":11},{"t":4.46,"v":20},{"t":4.56,"v":11},{"t":4.71,"v":0},{"t":4.82,"v":-14},{"t":4.91,"v":7},{"t":5.0,"v":4},{"t":5.11,"v":2},{"t":5.22,"v":-8},{"t":5.31,"v":7},{"t":5.44,"v":14},{"t":5.56,"v":-7},{"t":5.68,"v":-1},{"t":5.78,"v":7},{"t":5.91,"v":2},{"t":6.0,"v":-1},{"t":6.06,"v":9},{"t":6.09,"v":32},{"t":6.12,"v":-7},{"t":6.25,"v":0},{"t":6.31,"v":16},{"t":6.38,"v":14},{"t":6.48,"v":4},{"t":6.63,"v":-5},{"t":6.68,"v":6},{"t":6.77,"v":14},{"t":6.82,"v":-3},{"t":6.92,"v":4},{"t":6.98,"v":-3},{"t":7.12,"v":4},{"t":7.25,"v":6},{"t":7.42,"v":2},{"t":7.55,"v":18},{"t":7.64,"v":-1},{"t":7.68,"v":37},{"t":7.72,"v":-1},{"t":7.84,"v":13},{"t":7.91,"v":-29},{"t":7.96,"v":-7},{"t":8.0,"v":-5},{"t":8.09,"v":14},{"t":8.14,"v":26},{"t":8.19,"v":18},{"t":8.26,"v":11},{"t":8.36,"v":13},{"t":8.46,"v":-10},{"t":8.56,"v":-28},{"t":8.64,"v":-7},{"t":8.73,"v":20},{"t":8.86,"v":18},{"t":8.93,"v":9},{"t":9.0,"v":-5},{"t":9.09,"v":9},{"t":9.23,"v":2},{"t":9.4,"v":18},{"t":9.5,"v":0},{"t":9.6,"v":-3},{"t":9.7,"v":0},{"t":9.82,"v":-5}],
"F4-C4":[{"t":0.17,"v":5},{"t":0.27,"v":5},{"t":0.37,"v":12},{"t":0.47,"v":7},{"t":0.59,"v":7},{"t":0.69,"v":-4},{"t":0.78,"v":-2},{"t":0.84,"v":14},{"t":0.91,"v":-11},{"t":1.01,"v":-2},{"t":1.11,"v":0},{"t":1.23,"v":12},{"t":1.33,"v":8},{"t":1.43,"v":12},{"t":1.51,"v":15},{"t":1.6,"v":1},{"t":1.68,"v":-9},{"t":1.8,"v":10},{"t":1.88,"v":-2},{"t":1.98,"v":8},{"t":2.05,"v":-2},{"t":2.18,"v":-2},{"t":2.28,"v":1},{"t":2.42,"v":12},{"t":2.52,"v":10},{"t":2.62,"v":1},{"t":2.74,"v":29},{"t":2.79,"v":-9},{"t":2.85,"v":36},{"t":2.9,"v":61},{"t":2.97,"v":36},{"t":3.02,"v":26},{"t":3.12,"v":8},{"t":3.22,"v":-9},{"t":3.29,"v":-18},{"t":3.36,"v":-23},{"t":3.46,"v":-14},{"t":3.56,"v":-6},{"t":3.64,"v":5},{"t":3.72,"v":14},{"t":3.81,"v":1},{"t":3.89,"v":3},{"t":4.01,"v":-6},{"t":4.13,"v":7},{"t":4.26,"v":8},{"t":4.38,"v":14},{"t":4.49,"v":3},{"t":4.6,"v":5},{"t":4.69,"v":19},{"t":4.81,"v":-6},{"t":4.91,"v":-2},{"t":5.0,"v":1},{"t":5.11,"v":12},{"t":5.21,"v":3},{"t":5.31,"v":-2},{"t":5.44,"v":10},{"t":5.58,"v":10},{"t":5.68,"v":-2},{"t":5.78,"v":1},{"t":5.88,"v":10},{"t":5.95,"v":-6},{"t":6.0,"v":-7},{"t":6.05,"v":5},{"t":6.09,"v":24},{"t":6.15,"v":-13},{"t":6.21,"v":12},{"t":6.28,"v":24},{"t":6.38,"v":8},{"t":6.5,"v":0},{"t":6.62,"v":-9},{"t":6.67,"v":3},{"t":6.75,"v":10},{"t":6.85,"v":-2},{"t":6.98,"v":3},{"t":7.08,"v":5},{"t":7.17,"v":14},{"t":7.25,"v":3},{"t":7.35,"v":-4},{"t":7.45,"v":3},{"t":7.55,"v":10},{"t":7.62,"v":19},{"t":7.69,"v":24},{"t":7.75,"v":-7},{"t":7.84,"v":24},{"t":7.9,"v":-2},{"t":8.0,"v":1},{"t":8.09,"v":-2},{"t":8.19,"v":-4},{"t":8.26,"v":3},{"t":8.39,"v":10},{"t":8.47,"v":15},{"t":8.57,"v":-11},{"t":8.68,"v":-6},{"t":8.79,"v":-2},{"t":8.93,"v":1},{"t":9.0,"v":1},{"t":9.13,"v":17},{"t":9.23,"v":5},{"t":9.33,"v":21},{"t":9.43,"v":5},{"t":9.56,"v":0},{"t":9.7,"v":-4},{"t":9.82,"v":7}],
"C4-P4":[{"t":0.17,"v":-3},{"t":0.27,"v":2},{"t":0.37,"v":11},{"t":0.47,"v":2},{"t":0.58,"v":2},{"t":0.68,"v":-8},{"t":0.76,"v":2},{"t":0.84,"v":18},{"t":0.93,"v":6},{"t":1.01,"v":6},{"t":1.11,"v":-3},{"t":1.25,"v":2},{"t":1.43,"v":11},{"t":1.51,"v":9},{"t":1.61,"v":-1},{"t":1.71,"v":2},{"t":1.85,"v":1},{"t":2.0,"v":-3},{"t":2.12,"v":6},{"t":2.22,"v":6},{"t":2.33,"v":1},{"t":2.42,"v":-3},{"t":2.52,"v":8},{"t":2.62,"v":-1},{"t":2.72,"v":9},{"t":2.79,"v":2},{"t":2.91,"v":22},{"t":3.0,"v":9},{"t":3.05,"v":-11},{"t":3.1,"v":-25},{"t":3.17,"v":-8},{"t":3.24,"v":-5},{"t":3.31,"v":2},{"t":3.39,"v":9},{"t":3.49,"v":13},{"t":3.59,"v":6},{"t":3.69,"v":11},{"t":3.77,"v":-5},{"t":3.86,"v":6},{"t":4.01,"v":-8},{"t":4.13,"v":-1},{"t":4.23,"v":1},{"t":4.34,"v":9},{"t":4.46,"v":-3},{"t":4.56,"v":-6},{"t":4.69,"v":13},{"t":4.77,"v":9},{"t":4.87,"v":4},{"t":5.0,"v":-1},{"t":5.11,"v":9},{"t":5.21,"v":16},{"t":5.31,"v":-3},{"t":5.44,"v":2},{"t":5.54,"v":8},{"t":5.68,"v":2},{"t":5.78,"v":-1},{"t":5.86,"v":11},{"t":5.98,"v":-5},{"t":6.09,"v":11},{"t":6.15,"v":-3},{"t":6.21,"v":13},{"t":6.31,"v":11},{"t":6.41,"v":-3},{"t":6.5,"v":-1},{"t":6.62,"v":2},{"t":6.72,"v":8},{"t":6.85,"v":-1},{"t":7.0,"v":-3},{"t":7.15,"v":9},{"t":7.25,"v":2},{"t":7.35,"v":-8},{"t":7.45,"v":9},{"t":7.59,"v":9},{"t":7.74,"v":-8},{"t":7.82,"v":9},{"t":7.92,"v":9},{"t":8.0,"v":6},{"t":8.09,"v":-3},{"t":8.17,"v":-15},{"t":8.26,"v":2},{"t":8.39,"v":6},{"t":8.51,"v":22},{"t":8.63,"v":20},{"t":8.73,"v":-8},{"t":8.84,"v":-11},{"t":8.93,"v":-3},{"t":9.0,"v":-1},{"t":9.13,"v":6},{"t":9.23,"v":18},{"t":9.33,"v":9},{"t":9.43,"v":6},{"t":9.56,"v":-1},{"t":9.65,"v":-13},{"t":9.75,"v":6},{"t":9.82,"v":2}],
"P4-O2":[{"t":0.17,"v":-2},{"t":0.27,"v":2},{"t":0.37,"v":5},{"t":0.47,"v":0},{"t":0.58,"v":3},{"t":0.66,"v":-5},{"t":0.74,"v":5},{"t":0.79,"v":-5},{"t":0.86,"v":28},{"t":0.93,"v":10},{"t":1.01,"v":5},{"t":1.08,"v":-3},{"t":1.16,"v":-10},{"t":1.25,"v":-5},{"t":1.33,"v":2},{"t":1.43,"v":10},{"t":1.53,"v":0},{"t":1.61,"v":3},{"t":1.71,"v":14},{"t":1.81,"v":2},{"t":1.92,"v":3},{"t":2.0,"v":-5},{"t":2.12,"v":9},{"t":2.25,"v":3},{"t":2.33,"v":3},{"t":2.45,"v":2},{"t":2.59,"v":7},{"t":2.67,"v":-2},{"t":2.77,"v":7},{"t":2.85,"v":-5},{"t":2.92,"v":28},{"t":3.0,"v":21},{"t":3.05,"v":0},{"t":3.12,"v":-17},{"t":3.19,"v":-14},{"t":3.27,"v":-16},{"t":3.32,"v":0},{"t":3.42,"v":0},{"t":3.49,"v":16},{"t":3.59,"v":5},{"t":3.67,"v":16},{"t":3.76,"v":0},{"t":3.86,"v":-2},{"t":4.01,"v":-2},{"t":4.13,"v":5},{"t":4.26,"v":7},{"t":4.39,"v":2},{"t":4.53,"v":-7},{"t":4.57,"v":-3},{"t":4.69,"v":12},{"t":4.82,"v":10},{"t":4.91,"v":5},{"t":5.0,"v":0},{"t":5.11,"v":10},{"t":5.21,"v":24},{"t":5.29,"v":0},{"t":5.41,"v":0},{"t":5.56,"v":5},{"t":5.68,"v":0},{"t":5.84,"v":10},{"t":5.91,"v":0},{"t":6.05,"v":2},{"t":6.21,"v":7},{"t":6.35,"v":-7},{"t":6.48,"v":0},{"t":6.58,"v":2},{"t":6.72,"v":5},{"t":6.85,"v":5},{"t":6.98,"v":-2},{"t":7.12,"v":9},{"t":7.22,"v":9},{"t":7.35,"v":-3},{"t":7.45,"v":7},{"t":7.59,"v":7},{"t":7.65,"v":10},{"t":7.75,"v":-9},{"t":7.8,"v":14},{"t":7.93,"v":28},{"t":8.02,"v":7},{"t":8.09,"v":-3},{"t":8.17,"v":-14},{"t":8.26,"v":0},{"t":8.36,"v":7},{"t":8.46,"v":17},{"t":8.56,"v":35},{"t":8.66,"v":21},{"t":8.74,"v":-3},{"t":8.81,"v":-16},{"t":8.93,"v":-3},{"t":9.0,"v":3},{"t":9.13,"v":7},{"t":9.24,"v":17},{"t":9.33,"v":10},{"t":9.43,"v":7},{"t":9.53,"v":3},{"t":9.65,"v":-12},{"t":9.75,"v":3},{"t":9.82,"v":3}],
"Fz-Cz":[{"t":0.17,"v":2},{"t":0.27,"v":0},{"t":0.37,"v":4},{"t":0.51,"v":6},{"t":0.58,"v":-5},{"t":0.66,"v":-1},{"t":0.74,"v":7},{"t":0.83,"v":20},{"t":0.89,"v":-12},{"t":0.98,"v":-10},{"t":1.06,"v":4},{"t":1.14,"v":6},{"t":1.22,"v":18},{"t":1.31,"v":11},{"t":1.4,"v":23},{"t":1.48,"v":18},{"t":1.55,"v":11},{"t":1.63,"v":-5},{"t":1.7,"v":-12},{"t":1.78,"v":-1},{"t":1.85,"v":-3},{"t":1.9,"v":2},{"t":1.98,"v":9},{"t":2.05,"v":-3},{"t":2.15,"v":-7},{"t":2.28,"v":-8},{"t":2.38,"v":0},{"t":2.47,"v":13},{"t":2.53,"v":9},{"t":2.62,"v":-5},{"t":2.73,"v":23},{"t":2.81,"v":-5},{"t":2.85,"v":23},{"t":2.91,"v":63},{"t":2.97,"v":40},{"t":3.0,"v":32},{"t":3.1,"v":6},{"t":3.19,"v":-12},{"t":3.29,"v":-22},{"t":3.35,"v":-29},{"t":3.42,"v":-15},{"t":3.52,"v":-8},{"t":3.62,"v":-10},{"t":3.72,"v":7},{"t":3.76,"v":-8},{"t":3.82,"v":4},{"t":3.93,"v":0},{"t":4.01,"v":-5},{"t":4.09,"v":6},{"t":4.19,"v":13},{"t":4.29,"v":9},{"t":4.39,"v":13},{"t":4.51,"v":2},{"t":4.57,"v":6},{"t":4.7,"v":17},{"t":4.81,"v":-5},{"t":4.91,"v":-7},{"t":5.0,"v":-7},{"t":5.11,"v":2},{"t":5.24,"v":0},{"t":5.41,"v":13},{"t":5.51,"v":11},{"t":5.58,"v":4},{"t":5.68,"v":0},{"t":5.76,"v":2},{"t":5.88,"v":9},{"t":5.98,"v":-3},{"t":6.03,"v":9},{"t":6.08,"v":-8},{"t":6.15,"v":9},{"t":6.28,"v":21},{"t":6.38,"v":7},{"t":6.48,"v":2},{"t":6.58,"v":-8},{"t":6.67,"v":7},{"t":6.75,"v":-7},{"t":6.92,"v":-3},{"t":7.0,"v":0},{"t":7.15,"v":13},{"t":7.29,"v":-3},{"t":7.42,"v":0},{"t":7.52,"v":7},{"t":7.62,"v":18},{"t":7.72,"v":6},{"t":7.84,"v":21},{"t":7.92,"v":-5},{"t":8.0,"v":-5},{"t":8.07,"v":11},{"t":8.14,"v":13},{"t":8.22,"v":0},{"t":8.32,"v":-7},{"t":8.46,"v":7},{"t":8.52,"v":-1},{"t":8.59,"v":0},{"t":8.69,"v":2},{"t":8.83,"v":2},{"t":8.93,"v":0},{"t":9.0,"v":-1},{"t":9.13,"v":9},{"t":9.23,"v":6},{"t":9.33,"v":20},{"t":9.43,"v":13},{"t":9.56,"v":-1},{"t":9.65,"v":-8},{"t":9.73,"v":2},{"t":9.82,"v":-1}],
"Cz-Pz":[{"t":0.17,"v":-2},{"t":0.27,"v":0},{"t":0.36,"v":12},{"t":0.44,"v":3},{"t":0.52,"v":5},{"t":0.59,"v":-4},{"t":0.66,"v":3},{"t":0.73,"v":-4},{"t":0.79,"v":-7},{"t":0.84,"v":17},{"t":0.91,"v":7},{"t":1.0,"v":10},{"t":1.06,"v":1},{"t":1.14,"v":-4},{"t":1.23,"v":10},{"t":1.31,"v":3},{"t":1.45,"v":15},{"t":1.53,"v":7},{"t":1.61,"v":-7},{"t":1.71,"v":3},{"t":1.81,"v":5},{"t":1.92,"v":-2},{"t":2.0,"v":-4},{"t":2.07,"v":-7},{"t":2.15,"v":10},{"t":2.28,"v":3},{"t":2.38,"v":1},{"t":2.45,"v":14},{"t":2.55,"v":8},{"t":2.65,"v":7},{"t":2.75,"v":-2},{"t":2.82,"v":10},{"t":2.9,"v":28},{"t":2.97,"v":7},{"t":3.01,"v":7},{"t":3.05,"v":-16},{"t":3.11,"v":-28},{"t":3.19,"v":-7},{"t":3.29,"v":3},{"t":3.37,"v":5},{"t":3.46,"v":21},{"t":3.52,"v":8},{"t":3.61,"v":10},{"t":3.69,"v":1},{"t":3.77,"v":-7},{"t":3.86,"v":3},{"t":3.93,"v":-2},{"t":4.01,"v":-7},{"t":4.09,"v":3},{"t":4.19,"v":8},{"t":4.29,"v":5},{"t":4.43,"v":0},{"t":4.51,"v":-9},{"t":4.57,"v":0},{"t":4.69,"v":17},{"t":4.77,"v":8},{"t":4.91,"v":0},{"t":5.0,"v":1},{"t":5.11,"v":7},{"t":5.21,"v":17},{"t":5.29,"v":0},{"t":5.41,"v":5},{"t":5.53,"v":12},{"t":5.64,"v":3},{"t":5.76,"v":7},{"t":5.91,"v":1},{"t":6.0,"v":-4},{"t":6.11,"v":7},{"t":6.2,"v":14},{"t":6.31,"v":0},{"t":6.45,"v":0},{"t":6.58,"v":5},{"t":6.72,"v":1},{"t":6.85,"v":3},{"t":7.0,"v":1},{"t":7.15,"v":8},{"t":7.25,"v":1},{"t":7.35,"v":-2},{"t":7.45,"v":12},{"t":7.55,"v":14},{"t":7.65,"v":10},{"t":7.75,"v":-4},{"t":7.89,"v":8},{"t":8.0,"v":3},{"t":8.06,"v":0},{"t":8.14,"v":-6},{"t":8.26,"v":8},{"t":8.36,"v":7},{"t":8.49,"v":22},{"t":8.57,"v":10},{"t":8.64,"v":19},{"t":8.74,"v":-2},{"t":8.81,"v":-9},{"t":8.93,"v":0},{"t":9.0,"v":1},{"t":9.13,"v":17},{"t":9.23,"v":26},{"t":9.33,"v":10},{"t":9.43,"v":5},{"t":9.53,"v":-6},{"t":9.63,"v":-13},{"t":9.73,"v":1},{"t":9.82,"v":8}],
"seconds":[{"s":1},{"s":2},{"s":3},{"s":4},{"s":5},{"s":6},{"s":7},{"s":8},{"s":9}],
"boxes":[
{"b":1,"o":1,"c":"Fp2-F8","t":2.344,"v":84},{"b":1,"o":2,"c":"Fp2-F8","t":3.312,"v":84},{"b":1,"o":3,"c":"P8-O2","t":3.312,"v":-49},{"b":1,"o":4,"c":"P8-O2","t":2.344,"v":-49},{"b":1,"o":5,"c":"Fp2-F8","t":2.344,"v":84},
{"b":2,"o":1,"c":"Fp2-F8","t":5.636,"v":84},{"b":2,"o":2,"c":"Fp2-F8","t":6.616,"v":84},{"b":2,"o":3,"c":"P8-O2","t":6.616,"v":-49},{"b":2,"o":4,"c":"P8-O2","t":5.636,"v":-49},{"b":2,"o":5,"c":"Fp2-F8","t":5.636,"v":84},
{"b":3,"o":1,"c":"Fp2-F8","t":7.224,"v":84},{"b":3,"o":2,"c":"Fp2-F8","t":8.196,"v":84},{"b":3,"o":3,"c":"P8-O2","t":8.196,"v":-49},{"b":3,"o":4,"c":"P8-O2","t":7.224,"v":-49},{"b":3,"o":5,"c":"Fp2-F8","t":7.224,"v":84},
{"b":4,"o":1,"c":"Fp2-F4","t":2.325,"v":87},{"b":4,"o":2,"c":"Fp2-F4","t":3.297,"v":87},{"b":4,"o":3,"c":"P4-O2","t":3.297,"v":-45},{"b":4,"o":4,"c":"P4-O2","t":2.325,"v":-45},{"b":4,"o":5,"c":"Fp2-F4","t":2.325,"v":87},
{"b":5,"o":1,"c":"Fp2-F4","t":5.677,"v":87},{"b":5,"o":2,"c":"Fp2-F4","t":6.649,"v":87},{"b":5,"o":3,"c":"P4-O2","t":6.649,"v":-45},{"b":5,"o":4,"c":"P4-O2","t":5.677,"v":-45},{"b":5,"o":5,"c":"Fp2-F4","t":5.677,"v":87},
{"b":6,"o":1,"c":"Fp2-F4","t":7.243,"v":87},{"b":6,"o":2,"c":"Fp2-F4","t":8.215,"v":87},{"b":6,"o":3,"c":"P4-O2","t":8.215,"v":-45},{"b":6,"o":4,"c":"P4-O2","t":7.243,"v":-45},{"b":6,"o":5,"c":"Fp2-F4","t":7.243,"v":87}],
"scalebar":[{"o":1,"t":7.986,"v":89},{"o":2,"t":7.986,"v":-49},{"o":3,"t":9.0,"v":-49}],
"scaletext":[{"txt":"140 µV","t":7.717,"v":17},{"txt":"1 sec","t":8.432,"v":-78}],
"marker":[{"t":7.94,"v":-27}],
"labels":[{"c":"Fp1-F7"},{"c":"F7-T7"},{"c":"T7-P7"},{"c":"P7-O1"},{"c":"Fp2-F8"},{"c":"F8-T8"},{"c":"T8-P8"},{"c":"P8-O2"},{"c":"Fp1-F3"},{"c":"F3-C3"},{"c":"C3-P3"},{"c":"P3-O1"},{"c":"Fp2-F4"},{"c":"F4-C4"},{"c":"C4-P4"},{"c":"P4-O2"},{"c":"Fz-Cz"},{"c":"Cz-Pz"}]
},
"layer":[
{"data":{"values":[{}]},"mark":{"type":"rect","color":"#dcc4ba"},
 "encoding":{"x":{"datum":-0.498,"type":"quantitative","scale":{"domain":[-0.498,9.833],"nice":false,"zero":false}},"x2":{"datum":0.161}}},
{"data":{"name":"seconds"},"mark":{"type":"rule","color":"#4a3a8c","strokeWidth":2.4},"encoding":{"x":{"field":"s","type":"quantitative"}}},
{"data":{"values":[{}]},"mark":{"type":"rule","color":"#000000","strokeWidth":3},"encoding":{"x":{"datum":0.161,"type":"quantitative"}}},
{"data":{"name":"labels"},"mark":{"type":"text","align":"left","baseline":"middle","fontSize":40,"font":"Liberation Sans","color":"#111111"},
 "encoding":{"x":{"datum":-0.411,"type":"quantitative"},
  "y":{"field":"c","type":"nominal","scale":{"type":"point","padding":0,"range":[121,1402],"domain":["Fp1-F7","F7-T7","T7-P7","P7-O1","gap1","Fp2-F8","F8-T8","T8-P8","P8-O2","gap2","Fp1-F3","F3-C3","C3-P3","P3-O1","gap3","Fp2-F4","F4-C4","C4-P4","P4-O2","gap4","Fz-Cz","Cz-Pz"]}},
  "text":{"field":"c"}}},
{"data":{"name":"Fp1-F7"},"mark":"line","encoding":{"x":{"field":"t","type":"quantitative"},"y":{"datum":"Fp1-F7","type":"nominal"},"yOffset":{"field":"v","type":"quantitative","scale":{"domain":[-100,100],"range":[95.7,-95.7],"nice":false,"zero":false}}}},
{"data":{"name":"F7-T7"},"mark":"line","encoding":{"x":{"field":"t","type":"quantitative"},"y":{"datum":"F7-T7","type":"nominal"},"yOffset":{"field":"v","type":"quantitative","scale":{"domain":[-100,100],"range":[95.7,-95.7]}}}},
{"data":{"name":"T7-P7"},"mark":"line","encoding":{"x":{"field":"t","type":"quantitative"},"y":{"datum":"T7-P7","type":"nominal"},"yOffset":{"field":"v","type":"quantitative","scale":{"domain":[-100,100],"range":[95.7,-95.7]}}}},
{"data":{"name":"P7-O1"},"mark":"line","encoding":{"x":{"field":"t","type":"quantitative"},"y":{"datum":"P7-O1","type":"nominal"},"yOffset":{"field":"v","type":"quantitative","scale":{"domain":[-100,100],"range":[95.7,-95.7]}}}},
{"data":{"name":"Fp2-F8"},"mark":"line","encoding":{"x":{"field":"t","type":"quantitative"},"y":{"datum":"Fp2-F8","type":"nominal"},"yOffset":{"field":"v","type":"quantitative","scale":{"domain":[-100,100],"range":[95.7,-95.7]}}}},
{"data":{"name":"F8-T8"},"mark":"line","encoding":{"x":{"field":"t","type":"quantitative"},"y":{"datum":"F8-T8","type":"nominal"},"yOffset":{"field":"v","type":"quantitative","scale":{"domain":[-100,100],"range":[95.7,-95.7]}}}},
{"data":{"name":"T8-P8"},"mark":"line","encoding":{"x":{"field":"t","type":"quantitative"},"y":{"datum":"T8-P8","type":"nominal"},"yOffset":{"field":"v","type":"quantitative","scale":{"domain":[-100,100],"range":[95.7,-95.7]}}}},
{"data":{"name":"P8-O2"},"mark":"line","encoding":{"x":{"field":"t","type":"quantitative"},"y":{"datum":"P8-O2","type":"nominal"},"yOffset":{"field":"v","type":"quantitative","scale":{"domain":[-100,100],"range":[95.7,-95.7]}}}},
{"data":{"name":"Fp1-F3"},"mark":"line","encoding":{"x":{"field":"t","type":"quantitative"},"y":{"datum":"Fp1-F3","type":"nominal"},"yOffset":{"field":"v","type":"quantitative","scale":{"domain":[-100,100],"range":[95.7,-95.7]}}}},
{"data":{"name":"F3-C3"},"mark":"line","encoding":{"x":{"field":"t","type":"quantitative"},"y":{"datum":"F3-C3","type":"nominal"},"yOffset":{"field":"v","type":"quantitative","scale":{"domain":[-100,100],"range":[95.7,-95.7]}}}},
{"data":{"name":"C3-P3"},"mark":"line","encoding":{"x":{"field":"t","type":"quantitative"},"y":{"datum":"C3-P3","type":"nominal"},"yOffset":{"field":"v","type":"quantitative","scale":{"domain":[-100,100],"range":[95.7,-95.7]}}}},
{"data":{"name":"P3-O1"},"mark":"line","encoding":{"x":{"field":"t","type":"quantitative"},"y":{"datum":"P3-O1","type":"nominal"},"yOffset":{"field":"v","type":"quantitative","scale":{"domain":[-100,100],"range":[95.7,-95.7]}}}},
{"data":{"name":"Fp2-F4"},"mark":"line","encoding":{"x":{"field":"t","type":"quantitative"},"y":{"datum":"Fp2-F4","type":"nominal"},"yOffset":{"field":"v","type":"quantitative","scale":{"domain":[-100,100],"range":[95.7,-95.7]}}}},
{"data":{"name":"F4-C4"},"mark":"line","encoding":{"x":{"field":"t","type":"quantitative"},"y":{"datum":"F4-C4","type":"nominal"},"yOffset":{"field":"v","type":"quantitative","scale":{"domain":[-100,100],"range":[95.7,-95.7]}}}},
{"data":{"name":"C4-P4"},"mark":"line","encoding":{"x":{"field":"t","type":"quantitative"},"y":{"datum":"C4-P4","type":"nominal"},"yOffset":{"field":"v","type":"quantitative","scale":{"domain":[-100,100],"range":[95.7,-95.7]}}}},
{"data":{"name":"P4-O2"},"mark":"line","encoding":{"x":{"field":"t","type":"quantitative"},"y":{"datum":"P4-O2","type":"nominal"},"yOffset":{"field":"v","type":"quantitative","scale":{"domain":[-100,100],"range":[95.7,-95.7]}}}},
{"data":{"name":"Fz-Cz"},"mark":"line","encoding":{"x":{"field":"t","type":"quantitative"},"y":{"datum":"Fz-Cz","type":"nominal"},"yOffset":{"field":"v","type":"quantitative","scale":{"domain":[-100,100],"range":[95.7,-95.7]}}}},
{"data":{"name":"Cz-Pz"},"mark":"line","encoding":{"x":{"field":"t","type":"quantitative"},"y":{"datum":"Cz-Pz","type":"nominal"},"yOffset":{"field":"v","type":"quantitative","scale":{"domain":[-100,100],"range":[95.7,-95.7]}}}},
{"data":{"name":"boxes"},"mark":{"type":"line","color":"#2b60ad","strokeWidth":7,"strokeJoin":"miter","strokeCap":"square"},
 "encoding":{"x":{"field":"t","type":"quantitative"},"y":{"field":"c","type":"nominal"},"yOffset":{"field":"v","type":"quantitative","scale":{"domain":[-100,100],"range":[95.7,-95.7]}},"detail":{"field":"b"},"order":{"field":"o"}}},
{"data":{"name":"scalebar"},"mark":{"type":"line","color":"#2b60ad","strokeWidth":7,"strokeJoin":"miter","strokeCap":"butt"},
 "encoding":{"x":{"field":"t","type":"quantitative"},"y":{"datum":"Cz-Pz","type":"nominal"},"yOffset":{"field":"v","type":"quantitative","scale":{"domain":[-100,100],"range":[95.7,-95.7]}},"order":{"field":"o"}}},
{"data":{"name":"scaletext"},"mark":{"type":"text","align":"center","baseline":"middle","fontSize":35,"font":"Liberation Sans","color":"#3a69b2"},
 "encoding":{"x":{"field":"t","type":"quantitative"},"y":{"datum":"Cz-Pz","type":"nominal"},"yOffset":{"field":"v","type":"quantitative","scale":{"domain":[-100,100],"range":[95.7,-95.7]}},"text":{"field":"txt"}}},
{"data":{"name":"marker"},"mark":{"type":"point","filled":true,"shape":"circle","size":1024,"color":"#a8a8a8","opacity":1},
 "encoding":{"x":{"field":"t","type":"quantitative"},"y":{"datum":"T7-P7","type":"nominal"},"yOffset":{"field":"v","type":"quantitative","scale":{"domain":[-100,100],"range":[95.7,-95.7]}}}}
]
}
